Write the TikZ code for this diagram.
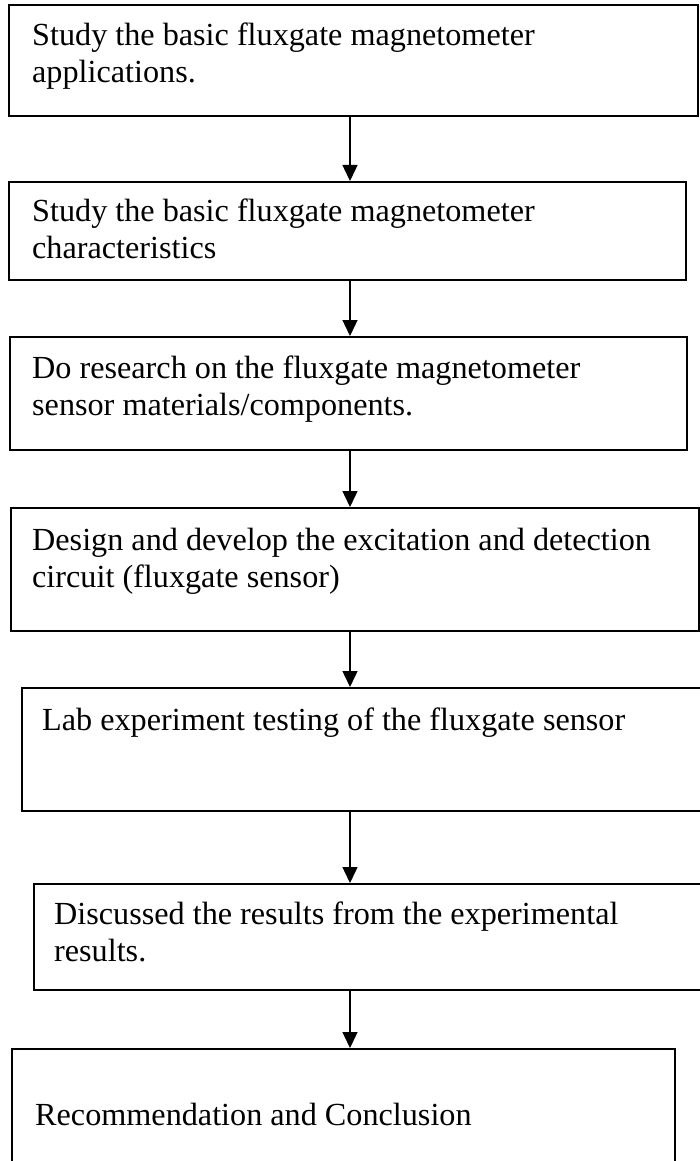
\documentclass[tikz,border=0pt]{standalone}
\usepackage{fontspec}
\setmainfont{Liberation Serif}
\usetikzlibrary{arrows.meta}
\begin{document}
\begin{tikzpicture}[x=1pt,y=-1pt,
  stepbox/.style={draw=black,line width=2pt,fill=none,inner sep=0pt},
  steptext/.style={anchor=base west,align=left,inner sep=0pt,
    font=\fontsize{32.2}{37}\selectfont},
  flow/.style={draw=black,line width=1.4pt,-{Triangle[length=16pt,width=15pt]}}]
\useasboundingbox[fill=white] (0,0) rectangle (700,1161);
% process boxes (left, top) -- (right, bottom)
\node[stepbox,minimum width=689pt,minimum height=111pt] (b1) at (353.5,60.5) {};
\node[stepbox,minimum width=677pt,minimum height=98pt] (b2) at (347.5,231) {};
\node[stepbox,minimum width=677pt,minimum height=113pt] (b3) at (348.5,393.5) {};
\node[stepbox,minimum width=688pt,minimum height=123pt] (b4) at (355,569.5) {};
\node[stepbox,minimum width=688pt,minimum height=123pt] (b5) at (366,749.5) {};
\node[stepbox,minimum width=676pt,minimum height=106pt] (b6) at (372,937) {};
\node[stepbox,minimum width=663pt,minimum height=160pt] (b7) at (343.5,1129) {};
% box texts, placed by the baseline of their last line
\node[steptext] (t1) at (32,83) {Study the basic fluxgate magnetometer\\applications.};
\node[steptext] (t2) at (32,258) {Study the basic fluxgate magnetometer\\characteristics};
\node[steptext] (t3) at (32,415) {Do research on the fluxgate magnetometer\\sensor materials/components.};
\node[steptext] (t4) at (32,587) {Design and develop the excitation and detection\\circuit (fluxgate sensor)};
\node[steptext] (t5) at (42,730) {Lab experiment testing of the fluxgate sensor};
\node[steptext] (t6) at (54,961) {Discussed the results from the experimental\\results.};
\node[steptext] (t7) at (35,1125) {Recommendation and Conclusion};
% vertical flow line
\coordinate (ax) at (350,0);
\draw[flow] (b1.south -| ax) -- (b2.north -| ax);
\draw[flow] (b2.south -| ax) -- (b3.north -| ax);
\draw[flow] (b3.south -| ax) -- (b4.north -| ax);
\draw[flow] (b4.south -| ax) -- (b5.north -| ax);
\draw[flow] (b5.south -| ax) -- (b6.north -| ax);
\draw[flow] (b6.south -| ax) -- (b7.north -| ax);
\end{tikzpicture}
\end{document}
